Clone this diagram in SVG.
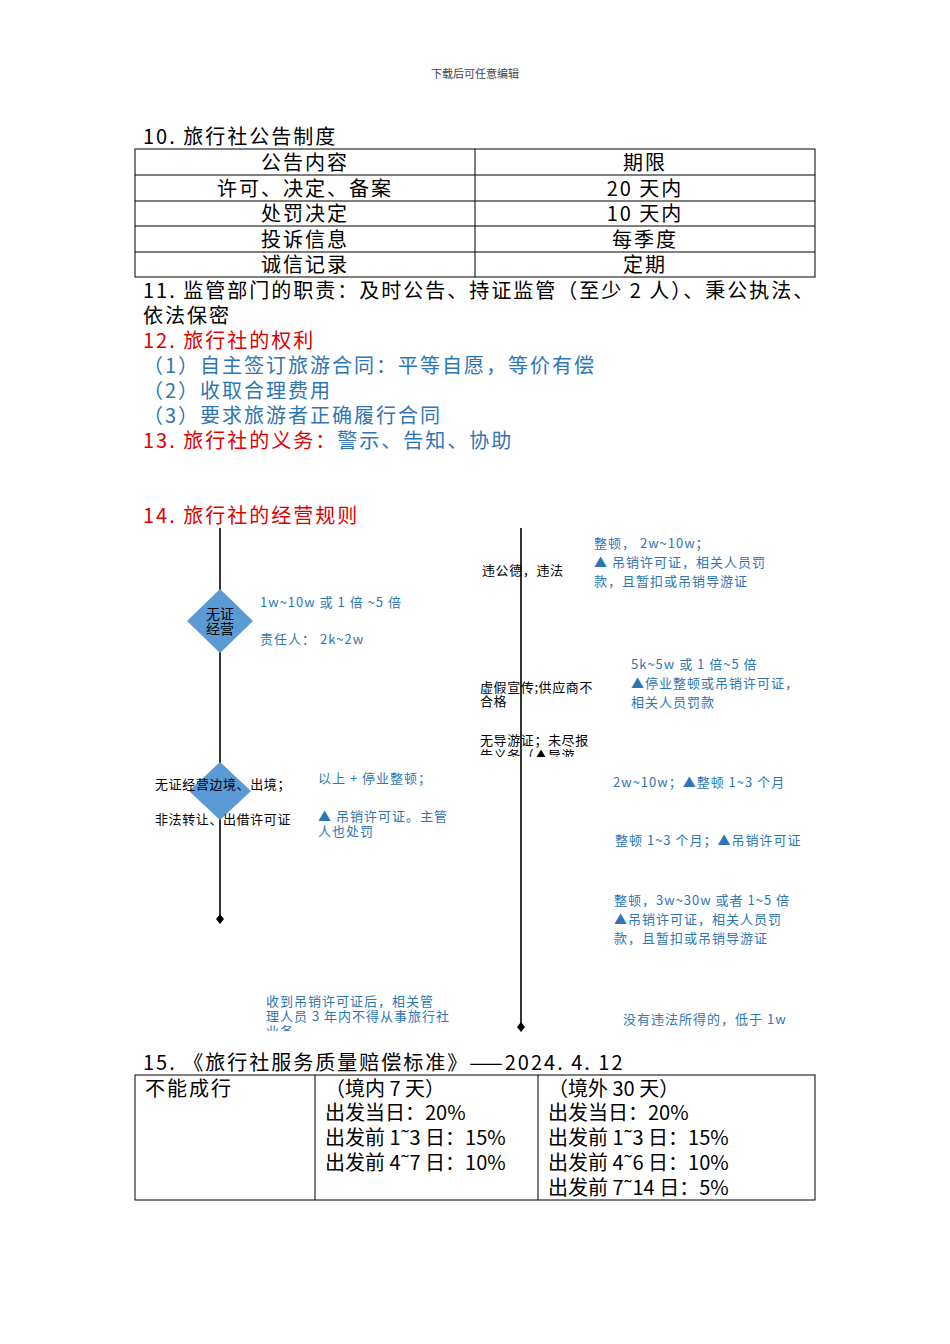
<svg xmlns="http://www.w3.org/2000/svg" width="950" height="1344" viewBox="0 0 950 1344">
<style>
text{font-family:"Noto Sans CJK SC","Noto Sans",sans-serif;fill:#000}
.t{font-size:20px;letter-spacing:2px}
.n{letter-spacing:0}
.c{text-anchor:middle}
.r{fill:#e00000}
.b{fill:#2e75b6}
.s{font-size:13px;letter-spacing:0.6px}
.sb{font-size:13px;fill:#2e75b6;letter-spacing:1px}
.ln{stroke:#000;stroke-width:1;fill:none}
.ax{stroke:#000;stroke-width:1.6}
.dm{fill:#5b9bd5}
</style>
<defs><clipPath id="cl"><rect x="470" y="730" width="150" height="27"/></clipPath><clipPath id="cl2"><rect x="250" y="990" width="250" height="41"/></clipPath></defs>
<rect width="950" height="1344" fill="#fff"/>
<text x="475" y="78" class="c" style="font-size:11px;fill:#444">下载后可任意编辑</text>
<text x="143" y="144" class="t">10. 旅行社公告制度</text>
<g id="table1" class="ln">
<rect x="135" y="149" width="680" height="128"/>
<line x1="475" y1="149" x2="475" y2="277"/>
<line x1="135" y1="175" x2="815" y2="175"/><line x1="135" y1="201" x2="815" y2="201"/><line x1="135" y1="226" x2="815" y2="226"/><line x1="135" y1="252" x2="815" y2="252"/>
</g>
<g>
<text x="305" y="170" class="t c">公告内容</text><text x="645" y="170" class="t c">期限</text>
<text x="305" y="196" class="t c">许可、决定、备案</text><text x="645" y="196" class="t c">20 天内</text>
<text x="305" y="221" class="t c">处罚决定</text><text x="645" y="221" class="t c">10 天内</text>
<text x="305" y="247" class="t c">投诉信息</text><text x="645" y="247" class="t c">每季度</text>
<text x="305" y="272" class="t c">诚信记录</text><text x="645" y="272" class="t c">定期</text>
</g>
<text x="143" y="298" class="t">11. 监管部门的职责：及时公告、持证监管（至少 2 人）、秉公执法、</text>
<text x="143" y="323" class="t">依法保密</text>
<text x="143" y="348" class="t r">12. 旅行社的权利</text>
<text x="143" y="373" class="t b">（1）自主签订旅游合同：平等自愿，等价有偿</text>
<text x="143" y="398" class="t b">（2）收取合理费用</text>
<text x="143" y="423" class="t b">（3）要求旅游者正确履行合同</text>
<text x="143" y="448" class="t"><tspan class="r">13. 旅行社的义务：</tspan><tspan class="b">警示、告知、协助</tspan></text>
<text x="143" y="523" class="t r">14. 旅行社的经营规则</text>
<g id="connectors">
<line class="ax" x1="220" y1="528" x2="220" y2="918"/>
<line class="ax" x1="521" y1="528" x2="521" y2="1026"/>
<path d="M220 914l4 5-4 5-4-5z M521 1022l4 5-4 5-4-5z" fill="#000"/>
</g>
<g id="node1"><polygon class="dm" points="220,589 253,621 220,653 187,621"/>
<text x="220" y="619" class="c" style="font-size:14px">无证</text><text x="220" y="634" class="c" style="font-size:14px">经营</text></g>
<g id="node2"><polygon class="dm" points="220,762 251,791 220,820 189,791"/></g>
<text x="260" y="607" class="sb">1w~10w 或 1 倍 ~5 倍</text>
<text x="260" y="644" class="sb">责任人： 2k~2w</text>
<text x="155" y="789" class="s">无证经营边境、出境；</text>
<text x="155" y="824" class="s">非法转让、出借许可证</text>
<text x="318" y="783" class="sb">以上 + 停业整顿；</text>
<text x="318" y="821" class="sb">▲ 吊销许可证。主管</text>
<text x="318" y="836" class="sb">人也处罚</text>
<text x="482" y="575" class="s">违公德，违法</text>
<text x="594" y="548" class="sb">整顿， 2w~10w；</text>
<text x="594" y="567" class="sb">▲ 吊销许可证，相关人员罚</text>
<text x="594" y="586" class="sb">款，且暂扣或吊销导游证</text>
<text x="480" y="692" class="s">虚假宣传;供应商不</text>
<text x="480" y="706" class="s">合格</text>
<text x="631" y="669" class="sb">5k~5w 或 1 倍~5 倍</text>
<text x="631" y="688" class="sb">▲停业整顿或吊销许可证，</text>
<text x="631" y="707" class="sb">相关人员罚款</text>
<g clip-path="url(#cl)"><text x="480" y="745" class="s">无导游证；未尽报</text><text x="480" y="760" class="s">告义务（▲导游</text></g>
<text x="613" y="787" class="sb">2w~10w；▲整顿 1~3 个月</text>
<text x="615" y="845" class="sb">整顿 1~3 个月；▲吊销许可证</text>
<text x="614" y="905" class="sb">整顿，3w~30w 或者 1~5 倍</text>
<text x="614" y="924" class="sb">▲吊销许可证，相关人员罚</text>
<text x="614" y="943" class="sb">款，且暂扣或吊销导游证</text>
<g clip-path="url(#cl2)"><text x="266" y="1006" class="sb">收到吊销许可证后，相关管</text><text x="266" y="1021" class="sb">理人员 3 年内不得从事旅行社</text><text x="266" y="1036" class="sb">业务</text></g>
<text x="623" y="1024" class="sb">没有违法所得的，低于 1w</text>
<text x="143" y="1070" class="t">15. 《旅行社服务质量赔偿标准》——2024. 4. 12</text>
<g id="table2" class="ln">
<rect x="135" y="1075" width="680" height="125"/>
<line x1="315" y1="1075" x2="315" y2="1200"/><line x1="538" y1="1075" x2="538" y2="1200"/>
</g>
<text x="145" y="1096" class="t">不能成行</text>
<text x="325" y="1096" class="t n">（境内 7 天）</text>
<text x="325" y="1120" class="t n">出发当日：20%</text>
<text x="325" y="1145" class="t n">出发前 1˜3 日：15%</text>
<text x="325" y="1170" class="t n">出发前 4˜7 日：10%</text>
<text x="548" y="1096" class="t n">（境外 30 天）</text>
<text x="548" y="1120" class="t n">出发当日：20%</text>
<text x="548" y="1145" class="t n">出发前 1˜3 日：15%</text>
<text x="548" y="1170" class="t n">出发前 4˜6 日：10%</text>
<text x="548" y="1195" class="t n">出发前 7˜14 日：5%</text>
</svg>
